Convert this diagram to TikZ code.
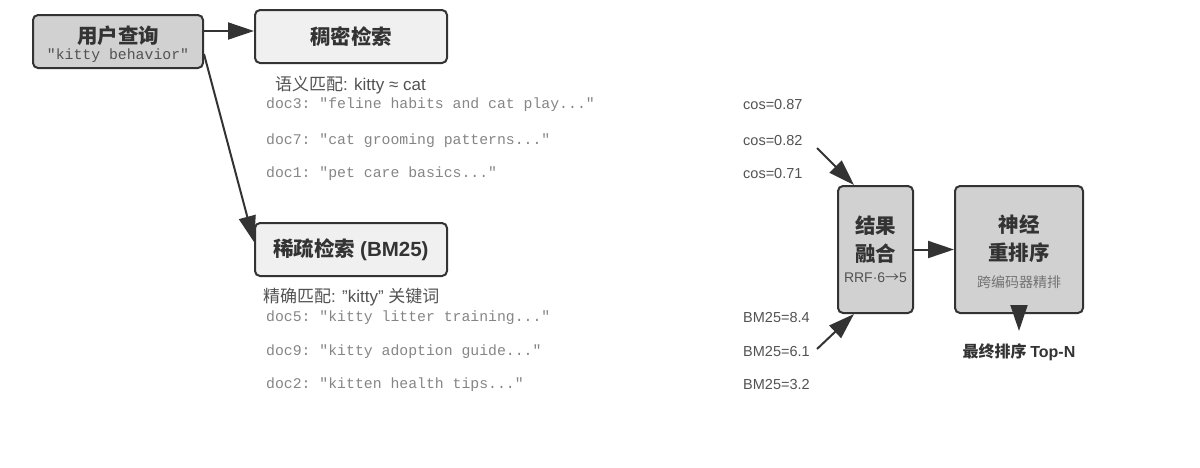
\documentclass[tikz,border=0pt]{standalone}
\usepackage{fontspec}
\setmainfont{Liberation Sans}
\setmonofont{Liberation Mono}
\newfontfamily\cjk{Noto Sans CJK SC}
\usepackage{tikz}
\usetikzlibrary{arrows.meta, calc, positioning}
\newcommand{\boxColorG}{black!18}
\newcommand{\boxColorL}{black!6}
\newcommand{\lineColor}{black!80}
\newcommand{\noteColor}{black!68}
\newcommand{\docColor}{black!48}
\tikzset{
    stagebox/.style = {draw=\lineColor, line width=2pt, rounded corners=5pt, fill=#1, inner sep=0pt},
    stagebox/.default = \boxColorG,
    stageL/.style = {stagebox=\boxColorL},
    headtext/.style = {text=\lineColor, font=\fontsize{20.5}{28}\selectfont\bfseries\cjk, align=center, inner sep=0pt},
    notetext/.style = {text=\noteColor, font=\fontsize{14.5}{17}\selectfont, inner sep=0pt},
    matchtext/.style = {notetext, font=\fontsize{17}{20}\selectfont, anchor=west},
    doctext/.style = {text=\docColor, font=\fontsize{14.8}{17}\ttfamily, inner sep=0pt, anchor=west},
    arr/.style = {draw=\lineColor, line width=2pt, -{Triangle[length=26pt,width=17pt]}}
}

\begin{document}
\begin{tikzpicture}[x={(1pt,0pt)}, y={(0pt,-1pt)}]
    \useasboundingbox (0,0) rectangle (1200,467);

    % query
    \node[stagebox, minimum width=170, minimum height=53] (query) at (118,41.5) {};
    \node[headtext] (queryname) at (118,36) {用户查询};
    \node[doctext, anchor=center, text=\noteColor] (querystr) at (118,56) {"kitty behavior"};

    % two retrievers
    \node[stageL, headtext, minimum width=192, minimum height=53] (dense) at (351,36.5) {稠密检索};
    \node[stageL, headtext, minimum width=192, minimum height=53] (sparse) at (351,249.5) {稀疏检索 {\rmfamily (BM25)}};

    \node[matchtext] (densenote) at (275,85) {{\cjk 语义匹配}: kitty ≈ cat};
    \node[matchtext] (sparsenote) at (263,297) {{\cjk 精确匹配}: "kitty" {\cjk 关键词}};

    \foreach \n/\y/\txt/\sc in {3/105/{feline habits and cat play...}/0.87,
                                7/141/{cat grooming patterns...}/0.82,
                                1/174/{pet care basics...}/0.71}{
        \node[doctext] (dense doc\n) at (266,\y) {doc\n: "\txt"};
        \node[notetext, anchor=west] (dense score\n) at (743,\y) {cos=\sc};
    }
    \foreach \n/\y/\txt/\sc in {5/318/{kitty litter training...}/8.4,
                                9/352/{kitty adoption guide...}/6.1,
                                2/385/{kitten health tips...}/3.2}{
        \node[doctext] (sparse doc\n) at (266,\y) {doc\n: "\txt"};
        \node[notetext, anchor=west] (sparse score\n) at (743,\y) {BM25=\sc};
    }

    % fusion and rerank
    \node[stagebox, minimum width=75, minimum height=127] (fusion) at (875.5,249.5) {};
    \node[headtext] (fusionname) at (875.5,239.5) {结果\\融合};
    \node[notetext, font=\fontsize{14}{17}\selectfont] (fusionnote) at (875.5,278) {RRF·6{\cjk →}5};

    \node[stagebox, minimum width=128, minimum height=127] (neural) at (1019,249.5) {};
    \node[headtext] (neuralname) at (1019,238.5) {神经\\重排序};
    \node[notetext, font=\fontsize{14}{17}\selectfont\cjk, text=black!55] (neuralnote) at (1019,282) {跨编码器精排};

    \node[headtext, font=\fontsize{16}{19}\selectfont\bfseries\cjk] (result) at (1019,352) {最终排序 {\rmfamily Top-N}};

    % connectors
    \coordinate (qd) at ($(query.east)+(0,-10.5)$);
    \draw[arr] (qd) -- (qd -| dense.west);
    \draw[arr] ($(query.north east)+(0,40)$) -- ($(sparse.north west)+(0,20)$);

    \coordinate (densein) at (817,148);
    \coordinate (sparsein) at (817,349);
    \draw[arr] (densein) -- ($(fusion.north west)+(17,0)$);
    \draw[arr] (sparsein) -- ($(fusion.south west)+(17,0)$);
    \draw[arr] (fusion) -- (neural);

    \coordinate (finaltip) at (1019,331);
    \draw[arr] (neural) -- (finaltip);

\end{tikzpicture}
\end{document}
